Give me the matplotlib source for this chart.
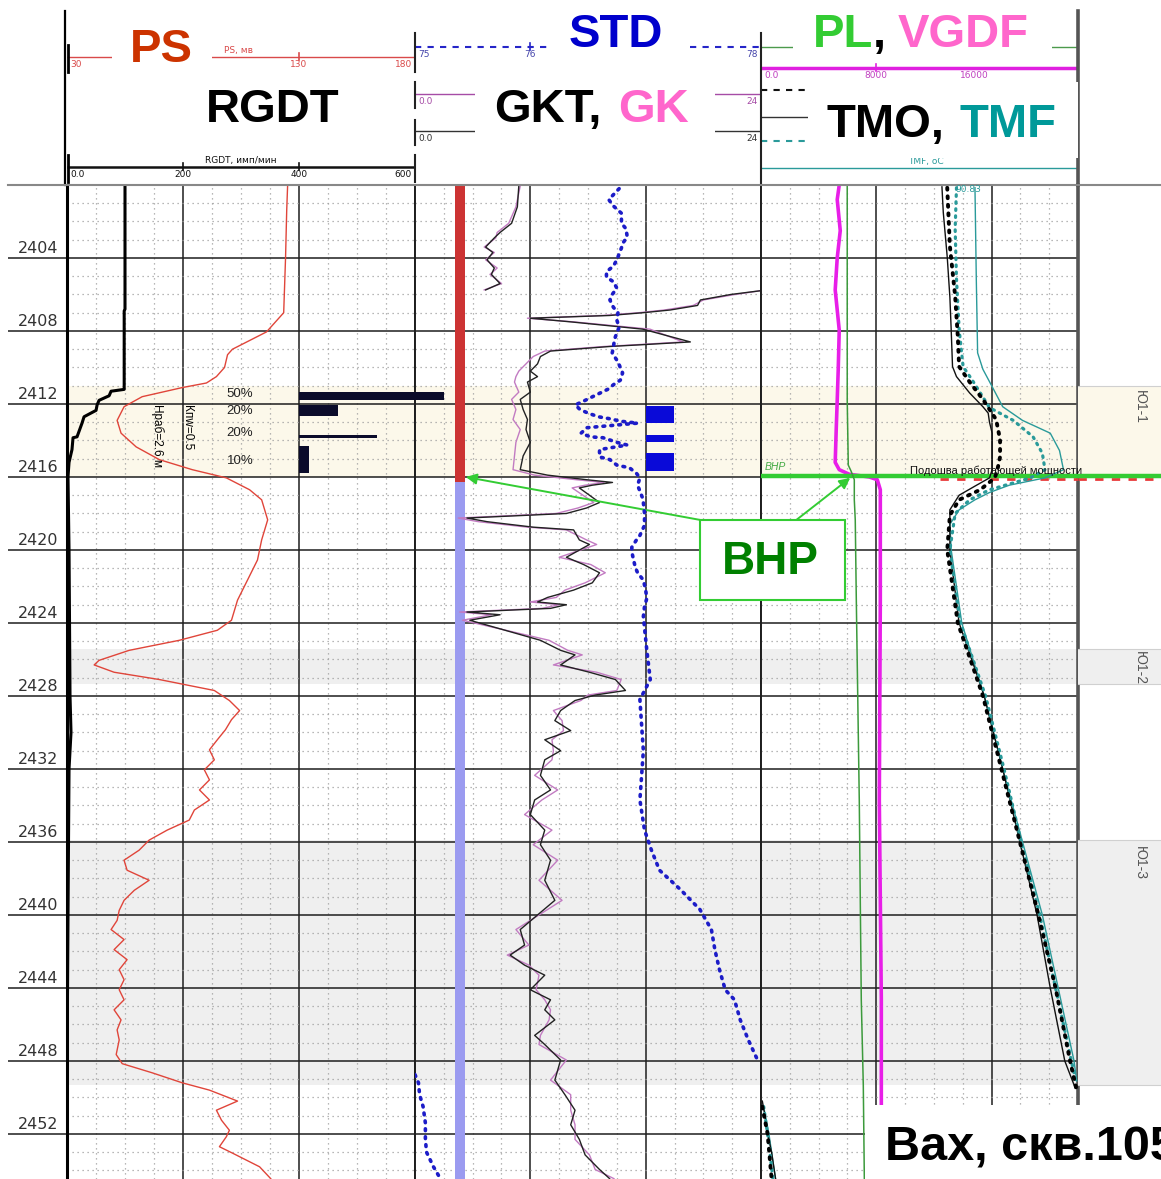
import numpy as np
import matplotlib
matplotlib.use("Agg")
import matplotlib.pyplot as plt
from matplotlib import transforms
from matplotlib.patches import Rectangle
from matplotlib.lines import Line2D

plt.rcParams["font.family"] = ["Liberation Sans", "DejaVu Sans"]

# PS, mV (track 1, scale 30..180)
ps_depth = [2400.0, 2401.4, 2404.0, 2407.0, 2408.05, 2409.0, 2409.3, 2410.0, 2410.5, 2410.85,
            2411.1, 2411.6, 2412.15, 2412.9, 2413.6, 2414.35, 2415.05, 2415.6, 2416.05, 2416.7,
            2417.25, 2418.35, 2419.45, 2420.55, 2421.65, 2422.75, 2423.85, 2424.4, 2424.95, 2425.5,
            2426.05, 2426.3, 2426.7, 2427.1, 2427.7, 2428.25, 2428.8, 2429.3, 2429.85, 2430.4,
            2430.95, 2431.5, 2432.05, 2432.6, 2433.15, 2433.7, 2434.25, 2434.8, 2435.35, 2435.9,
            2436.45, 2437.0, 2437.55, 2438.1, 2438.65, 2439.2, 2439.75, 2440.3, 2440.8, 2441.35,
            2441.9, 2442.45, 2443.0, 2443.55, 2444.1, 2444.65, 2445.2, 2445.75, 2446.3, 2446.85,
            2447.65, 2448.15, 2448.65, 2449.2, 2449.6, 2450.2, 2450.7, 2451.25, 2451.8, 2452.15,
            2452.7, 2453.05, 2453.8, 2454.45]
ps_vals = [125.1, 124.7, 124.2, 123.4, 116.0, 101.3, 99.2, 97.9, 94.4, 90.1,
           79.7, 62.4, 54.6, 51.6, 53.3, 59.8, 69.8, 84.0, 98.7, 108.7,
           113.9, 116.5, 113.9, 112.1, 107.8, 103.5, 100.9, 94.8, 78.4, 56.8,
           43.8, 41.7, 50.3, 69.8, 93.5, 100.0, 104.4, 100.9, 98.3, 94.8,
           91.4, 93.5, 89.2, 91.4, 87.1, 91.4, 84.9, 82.7, 73.2, 65.4,
           61.1, 54.6, 55.9, 65.4, 59.0, 54.6, 52.5, 51.6, 49.0, 54.6,
           50.3, 55.9, 52.5, 54.6, 52.5, 54.6, 50.3, 53.3, 51.6, 52.5,
           51.2, 53.8, 66.7, 79.7, 91.4, 103.5, 94.4, 96.6, 100.0, 98.7,
           95.7, 101.3, 113.0, 117.8]

# RGDT, imp/min (track 1, scale 0..600)
rgdt_depth = [2400.0, 2406.8, 2406.9, 2411.2, 2411.3, 2411.55, 2411.8, 2412.05, 2412.35, 2412.7,
              2413.05, 2413.8, 2413.85, 2414.5, 2415.2, 2416.0, 2420.0, 2428.0, 2430.0, 2432.0,
              2440.0, 2448.5]
rgdt_vals = [100, 100, 98.6, 98.6, 76, 72.6, 55.3, 51.9, 50.1, 29.4,
             25.9, 17.3, 10.4, 8.6, 3.5, 1.7, 3.5, 5.2, 6.9, 3.5,
             1.7, 0]

# inflow profile bars (RGDT units, from 400)
flow_top = [2411.35, 2412.05, 2413.68, 2414.3]
flow_bot = [2411.8, 2412.65, 2413.85, 2415.8]
flow_len = [250, 67, 135, 17]
flow_pct = ["50%", "20%", "20%", "10%"]
flow_lab_depth = [2411.45, 2412.4, 2413.6, 2415.1]

# GKT / GK (track 2, scale 0..24, wraps)
gk_depth = [2400.05, 2401.2, 2402.1, 2402.6, 2402.9, 2403.4, 2403.7, 2404.1, 2404.55, 2404.9, 2405.4, 2405.75,
            2405.8, 2406.0, 2406.3, 2406.6, 2406.85, 2407.0, 2407.15, 2407.3, 2407.5, 2407.9,
            2408.6, 2408.75, 2408.85, 2409.1, 2409.4, 2409.8, 2410.2, 2410.5, 2410.8, 2411.35,
            2411.75, 2412.3, 2412.85, 2413.4, 2414.1, 2414.85, 2415.6, 2415.9,
            2416.15, 2416.3, 2416.45, 2416.6, 2417.4, 2417.7, 2418.0, 2418.25, 2418.45, 2418.75,
            2418.9, 2419.45, 2419.7, 2420.4, 2420.8, 2421.25, 2421.8, 2422.2, 2422.6, 2422.85,
            2423.0, 2423.2, 2423.4, 2423.55, 2423.85,
            2424.95, 2425.5, 2425.75, 2426.3, 2426.7, 2427.1, 2427.7, 2427.95, 2428.25, 2428.8,
            2429.35, 2429.9, 2430.4, 2431.0, 2431.5, 2432.35, 2433.15, 2433.7, 2434.5, 2435.35,
            2436.15, 2437.0, 2438.1, 2439.2, 2440.8, 2441.65, 2442.2, 2442.75, 2443.3, 2444.1,
            2444.65, 2445.2, 2445.75, 2446.6, 2447.1, 2447.95, 2449.05, 2449.85, 2450.7, 2451.5,
            2452.3, 2453.15, 2453.95, 2454.45]
gkt_vals = [31.2, 31.1, 30.7, 29.9, 29.5, 28.9, 29.4, 29.0, 29.5, 29.3, 29.9, 28.9,
            23.9, 21.9, 19.8, 19.6, 17.7, 15.8, 13.5, 8.0, 10.8, 15.8,
            19.1, 15.8, 13.5, 9.4, 8.7, 8.5, 8.0, 8.5, 7.8, 8.0,
            7.3, 7.5, 7.8, 7.7, 8.0, 7.5, 7.3, 9.2,
            11.9, 13.7, 12.3, 11.4, 12.8, 11.9, 10.5, 3.6, 5.0, 8.2,
            11.0, 11.4, 12.1, 10.5, 11.7, 12.8, 12.3, 11.0, 9.2, 8.5,
            10.5, 9.4, 3.6, 5.9, 3.8,
            8.7, 10.1, 11.1, 10.1, 12.1, 13.9, 14.6, 12.5, 11.1, 10.1,
            9.7, 10.8, 9.0, 10.1, 9.0, 8.7, 9.4, 8.3, 8.0, 9.0,
            8.7, 9.4, 9.0, 9.7, 7.3, 7.6, 6.6, 7.6, 9.0, 8.0,
            9.4, 9.0, 9.7, 8.3, 9.0, 10.1, 9.7, 10.4, 11.1, 10.8,
            11.4, 11.8, 12.8, 13.5]
gk_vals = [31.3, 31.0, 30.5, 29.7, 29.6, 28.8, 29.5, 28.9, 29.7, 29.2, 30.0, 28.8,
           23.9, 22.2, 20.0, 19.3, 17.3, 15.5, 13.0, 7.8, 11.0, 16.3,
           18.6, 15.4, 13.1, 9.0, 8.2, 7.7, 7.2, 7.0, 6.9, 7.2,
           6.7, 7.0, 6.8, 7.3, 7.0, 6.9, 6.8, 8.3,
           11.2, 13.1, 11.8, 10.9, 12.4, 11.3, 9.8, 3.0, 4.4, 7.8,
           10.5, 11.9, 12.6, 10.0, 12.2, 13.2, 11.8, 10.4, 9.8, 8.0,
           10.0, 8.8, 3.1, 5.3, 3.3,
           9.3, 10.6, 11.6, 9.6, 12.6, 14.3, 14.0, 12.0, 11.5, 9.6,
           10.2, 10.3, 9.5, 9.6, 9.5, 8.3, 9.9, 8.8, 7.6, 9.5,
           8.2, 9.9, 8.6, 10.2, 7.0, 7.9, 6.4, 7.9, 8.6, 8.4,
           9.0, 9.4, 9.3, 8.7, 8.6, 10.5, 9.4, 10.8, 10.8, 11.1,
           11.1, 12.1, 12.5, 13.8]

# STD, degC (track 2, scale 75..78, wraps)
std_depth = [2400.2, 2400.8, 2401.15, 2401.55, 2402.1, 2402.4, 2402.85, 2403.2, 2403.45, 2404.1,
             2404.45, 2404.75, 2405.05, 2405.3, 2405.65, 2406.0, 2406.3, 2406.7, 2407.0, 2407.4,
             2407.8, 2408.1, 2408.45, 2408.9, 2409.2, 2409.7, 2410.3, 2410.7, 2410.9, 2411.2,
             2411.6, 2411.85, 2412.05, 2412.3, 2412.5, 2412.7, 2412.8, 2412.95, 2413.0, 2413.05,
             2413.3, 2413.6, 2413.8, 2413.85, 2414.1, 2414.25, 2414.5, 2414.9, 2415.05, 2415.35,
             2415.5, 2415.8, 2416.05, 2416.45, 2417.1, 2417.4, 2418.0, 2418.65, 2419.2, 2419.45,
             2419.85, 2420.1, 2420.4, 2420.95, 2421.25, 2421.65, 2422.2, 2422.65, 2423.1, 2423.65,
             2425.5, 2427.1, 2428.2, 2431.0, 2433.7, 2435.35, 2436.45, 2437.55, 2438.6, 2439.7,
             2440.8, 2441.9, 2443.0, 2444.1, 2444.65, 2445.75, 2446.85, 2447.95, 2448.75, 2449.2,
             2449.85, 2450.5, 2451.4, 2452.3, 2453.0, 2453.8, 2454.45]
std_vals = [76.77, 76.68, 76.72, 76.79, 76.79, 76.83, 76.84, 76.80, 76.79, 76.75,
            76.72, 76.66, 76.66, 76.72, 76.75, 76.71, 76.69, 76.72, 76.76, 76.75,
            76.77, 76.75, 76.73, 76.72, 76.71, 76.76, 76.80, 76.78, 76.73, 76.67,
            76.54, 76.46, 76.39, 76.43, 76.50, 76.59, 76.68, 76.79, 76.86, 76.93,
            76.49, 76.44, 76.52, 76.63, 76.75, 76.84, 76.60, 76.60, 76.69, 76.75,
            76.86, 76.92, 76.95, 76.93, 76.97, 76.98, 76.99, 76.99, 76.95, 76.92,
            76.88, 76.88, 76.89, 76.91, 76.93, 76.98, 77.00, 77.01, 76.99, 76.98,
            77.01, 77.04, 76.95, 76.98, 76.95, 76.99, 77.05, 77.12, 77.30, 77.47,
            77.57, 77.60, 77.64, 77.69, 77.77, 77.82, 77.89, 77.97, 78.00, 78.03,
            78.04, 78.07, 78.09, 78.09, 78.10, 78.16, 78.22]

# marker column and inflow intervals in track 2
col_top = [2400.0, 2416.3]
col_bot = [2416.3, 2454.47]
col_colors = ["#CC3333", "#9B9BF0"]
inflow_top = [2412.1, 2413.7, 2414.68]
inflow_bot = [2413.05, 2414.1, 2415.67]

# VGDF (track 3, 0..22000) and PL (0..3)
vgdf_depth = [2400.0, 2400.8, 2402.5, 2404.0, 2405.75, 2407.95, 2410.1, 2411.8, 2413.4, 2415.2,
              2415.6, 2415.85, 2416.0, 2416.15, 2416.7, 2422.75, 2433.7, 2444.65, 2454.47]
vgdf_vals = [5430, 5290, 5500, 5290, 5150, 5430, 5360, 5290, 5220, 5150,
             5430, 6120, 7510, 8070, 8280, 8280, 8210, 8350, 8350]
pl_depth = [2400.0, 2406.3, 2411.8, 2415.35, 2415.7, 2416.15, 2417.25, 2418.35, 2422.75, 2433.7,
            2444.65, 2449.3, 2454.47]
pl_vals = [0.816, 0.816, 0.816, 0.826, 0.854, 0.883, 0.883, 0.892, 0.902, 0.930,
           0.949, 0.968, 0.978]

# TMO / TMF temperatures, degC (track 3, 89.2..91.6, wraps)
tmo_depth = [2400.1, 2401.5, 2403.95, 2406.15, 2407.95, 2409.95, 2410.5, 2411.4, 2412.15, 2412.5,
             2413.0, 2413.6, 2415.6, 2416.05, 2416.5, 2417.0, 2417.8, 2418.5, 2420.0, 2424.0,
             2428.0, 2432.0, 2436.0, 2440.0, 2444.0, 2448.0, 2449.5, 2450.2, 2451.0, 2452.0,
             2453.0, 2454.45]
tmo_vals = [90.57, 90.58, 90.61, 90.63, 90.64, 90.65, 90.68, 90.78, 90.88, 90.92,
            90.93, 90.95, 90.95, 90.93, 90.82, 90.70, 90.63, 90.63, 90.63, 90.70,
            90.89, 91.03, 91.16, 91.29, 91.39, 91.50, 91.58, 91.61, 91.63, 91.65,
            91.68, 91.71]
tmo2_depth = [2400.15, 2403.35, 2406.1, 2408.3, 2409.95, 2410.8, 2411.75, 2412.85, 2413.95, 2414.9,
              2415.6, 2416.05, 2416.7, 2417.25, 2418.1, 2420.0, 2424.0, 2428.0, 2432.0, 2436.0,
              2440.0, 2444.0, 2448.0, 2449.6, 2450.5, 2452.0, 2454.45]
tmo2_vals = [90.61, 90.63, 90.67, 90.69, 90.70, 90.78, 90.88, 90.98, 91.01, 91.01,
             90.99, 90.97, 90.86, 90.70, 90.63, 90.61, 90.69, 90.88, 91.02, 91.16,
             91.30, 91.43, 91.54, 91.59, 91.61, 91.65, 91.68]
tmf2_depth = [2400.15, 2402.4, 2405.15, 2407.9, 2409.95, 2410.7, 2412.2, 2412.9, 2413.8, 2414.7,
              2415.6, 2416.05, 2416.7, 2417.25, 2418.0, 2420.0, 2424.0, 2428.0, 2432.0, 2436.0,
              2440.0, 2444.0, 2448.0, 2449.3, 2450.5, 2452.0, 2454.45]
tmf2_vals = [90.68, 90.67, 90.68, 90.70, 90.73, 90.80, 90.93, 91.11, 91.26, 91.33,
             91.35, 91.24, 90.93, 90.78, 90.67, 90.63, 90.71, 90.90, 91.04, 91.17,
             91.31, 91.43, 91.55, 91.59, 91.62, 91.65, 91.69]
tmf_depth = [2400.15, 2405.15, 2409.2, 2410.1, 2411.05, 2412.15, 2412.9, 2413.6, 2414.55, 2415.6,
             2416.05, 2416.45, 2416.85, 2417.25, 2417.8, 2418.6, 2420.0, 2424.0, 2428.0, 2432.0,
             2436.0, 2440.0, 2444.0, 2448.0, 2449.1, 2450.5, 2452.0, 2454.45]
tmf_vals = [90.82, 90.83, 90.84, 90.88, 90.95, 91.03, 91.18, 91.39, 91.46, 91.49,
            91.35, 91.08, 90.93, 90.82, 90.70, 90.63, 90.64, 90.72, 90.89, 91.03,
            91.18, 91.33, 91.45, 91.57, 91.59, 91.62, 91.66, 91.71]

# zones
zone_names = ["Ю1-1", "Ю1-2", "Ю1-3"]
zone_top = [2411.0, 2425.4, 2435.9]
zone_bot = [2416.0, 2427.35, 2449.3]
zone_colors = ["#FCF8EA", "#EFEFEF", "#EFEFEF"]
zone_label_depth = [2412.15, 2426.45, 2437.15]

bhp_depth = 2415.95
depth_labels = np.arange(2404, 2453, 4)

# ---------------- layout ----------------
W, H = 1161, 1179
TOP, BOT = 2400.0, 2454.47
fig = plt.figure(figsize=(W / 100, H / 100), dpi=100)
fig.patch.set_facecolor("white")


def rect(x0, y0, x1, y1):
    return [x0 / W, 1 - y1 / H, (x1 - x0) / W, (y1 - y0) / H]


def fx(x):
    return x / W


def fy(y):
    return 1 - y / H


def wrap(depth, vals, lo, span):
    d_out, v_out, prev = [], [], None
    for d, v in zip(depth, vals):
        k = np.floor((v - lo) / span + 1e-9)
        if prev is not None and k != prev:
            d_out.append(np.nan)
            v_out.append(np.nan)
        d_out.append(d)
        v_out.append(v - k * span)
        prev = k
    return d_out, v_out


def track(x0, x1, lim, major, minor):
    ax = fig.add_axes(rect(x0, 185, x1, H))
    ax.set_xlim(*lim)
    ax.set_ylim(BOT, TOP)
    ax.set_xticks(np.arange(lim[0], lim[1] + 1e-6, major))
    ax.set_xticks(np.arange(lim[0], lim[1] + 1e-6, minor), minor=True)
    ax.set_yticks(np.arange(2404, BOT, 4))
    ax.set_yticks(np.arange(2401, BOT, 1), minor=True)
    ax.grid(which="major", color="#1e1e1e", lw=1.1)
    ax.grid(which="minor", color="#a0a0a0", lw=0.9, ls=(0, (1, 3)))
    ax.set_axisbelow(True)
    ax.tick_params(which="both", length=0, labelbottom=False, labelleft=False)
    for s in ("top", "bottom"):
        ax.spines[s].set_visible(False)
    for s in ("left", "right"):
        ax.spines[s].set_color("#1e1e1e")
        ax.spines[s].set_linewidth(1.3)
    for t, b, c in zip(zone_top, zone_bot, zone_colors):
        ax.axhspan(t, b, color=c, zorder=0, lw=0)
    return ax


def twin(ax, lim):
    t = ax.twiny()
    t.set_xlim(*lim)
    t.axis("off")
    return t


def dotted(ax, x, y, color, lw):
    ax.plot(x, y, color=color, lw=lw, ls=(0, (0.5, 1.7)), dash_capstyle="round")


# depth column
axd = fig.add_axes(rect(8, 185, 67, H))
axd.set_xlim(0, 1)
axd.set_ylim(BOT, TOP)
axd.axis("off")
for d in depth_labels:
    axd.axhline(d, color="#1e1e1e", lw=1.1)
    axd.text(0.86, d - 0.12, str(d), ha="right", va="bottom", fontsize=11.5, color="#333333",
             family="DejaVu Sans")

# track 1: PS + RGDT
ax1 = track(67, 415, (30, 180), 50, 12.5)
ax1.spines["left"].set_linewidth(2.2)
ax1.spines["left"].set_color("black")
ax1.plot(ps_vals, ps_depth, color="#E0453A", lw=1.0)
r1 = twin(ax1, (0, 600))
r1.set_zorder(1)
r1.plot(rgdt_vals, rgdt_depth, color="black", lw=2.2)
ft, fb = np.array(flow_top), np.array(flow_bot)
r1.barh((ft + fb) / 2, flow_len, height=fb - ft, left=400, color="#0b0b2a", clip_on=False, zorder=4)
for d, lab in zip(flow_lab_depth, flow_pct):
    r1.text(298, d, lab, ha="center", va="center", fontsize=9.5, color="#222222")
ax1.text(81.9, 2413.3, "Кпw=0.5", rotation=-90, ha="center", va="center", fontsize=8.5)
ax1.text(68.9, 2413.7, "Нраб=2.6 м", rotation=-90, ha="center", va="center", fontsize=8.5)

# track 2: GKT, GK, STD
ax2 = track(415, 761, (0, 24), 8, 2)
blend = transforms.blended_transform_factory(ax2.transAxes, ax2.transData)
for t, b, c in zip(col_top, col_bot, col_colors):
    ax2.fill_betweenx([t, b], 0.1156, 0.1445, color=c, transform=blend, lw=0, zorder=2)
for t, b in zip(inflow_top, inflow_bot):
    ax2.fill_betweenx([t, b], 0.668, 0.749, color="#0A0AD8", transform=blend, lw=0, zorder=2)
d, v = wrap(gk_depth, gk_vals, 0, 24)
ax2.plot(v, d, color="#C27BC2", lw=1.0, zorder=3)
d, v = wrap(gk_depth, gkt_vals, 0, 24)
ax2.plot(v, d, color="#222222", lw=1.0, zorder=3)
s2 = twin(ax2, (75, 78))
d, v = wrap(std_depth, std_vals, 75, 3)
dotted(s2, v, d, "#1c1cc8", 2.6)

# track 3: VGDF, PL, TMO, TMF
ax3 = track(761, 1078, (0, 22000), 8000, 2000)
ax3.spines["right"].set_linewidth(2.6)
ax3.spines["right"].set_color("#555555")
ax3.plot(vgdf_vals, vgdf_depth, color="#E81EE8", lw=2.6)
p3 = twin(ax3, (0, 3))
p3.plot(pl_vals, pl_depth, color="#3C9A3C", lw=1.1)
t3 = twin(ax3, (89.2, 91.6))
d, v = wrap(tmf_depth, tmf_vals, 89.2, 2.4)
t3.plot(v, d, color="#2A9A9A", lw=1.0)
d, v = wrap(tmo_depth, tmo_vals, 89.2, 2.4)
t3.plot(v, d, color="#111111", lw=1.0)
d, v = wrap(tmf2_depth, tmf2_vals, 89.2, 2.4)
dotted(t3, v, d, "#2A9A9A", 2.3)
d, v = wrap(tmo2_depth, tmo2_vals, 89.2, 2.4)
dotted(t3, v, d, "#000000", 2.8)
ax3.plot([12450, 22000], [2416.12, 2416.12], color="#E83A3A", lw=2, ls=(0, (3, 3)), zorder=4)
ax3.axhline(bhp_depth, color="#33CC33", lw=3.2, zorder=5)
ax3.text(278, bhp_depth - 0.25, "BHP", fontsize=7.5, style="italic", color="#44AA44", va="bottom")

# zone column
axz = fig.add_axes(rect(1078, 185, W, H))
axz.set_xlim(0, 1)
axz.set_ylim(BOT, TOP)
axz.axis("off")
for name, t, b, c, dl in zip(zone_names, zone_top, zone_bot, zone_colors, zone_label_depth):
    axz.axhspan(t, b, color=c, lw=0, zorder=0)
    axz.axhline(t, color="#d0d0d0", lw=0.8)
    axz.axhline(b, color="#d0d0d0", lw=0.8)
    axz.text(0.75, dl, name, rotation=-90, ha="center", va="center", fontsize=10, color="#555555")
axz.axhline(2416.12, color="#E83A3A", lw=2, ls=(0, (3, 3)))
axz.axhline(bhp_depth, color="#33CC33", lw=3.2)

# arrows to BHP
arrow = dict(arrowstyle="-|>", color="#33CC33", lw=1.4, mutation_scale=16, shrinkA=0, shrinkB=0)
ax2.annotate("", xy=(0.147, 2416.0), xycoords=blend, xytext=(706, H - 521),
             textcoords="figure pixels", arrowprops=arrow, annotation_clip=False)
ax3.annotate("", xy=(6190, 2416.05), xytext=(795, H - 521),
             textcoords="figure pixels", arrowprops=arrow, annotation_clip=False)


# ---------------- header ----------------
def scale_row(x0, x1, y, lim, color, lw=1.0, ls="-", ticks=(), labels=(), has=(),
              lab_color=None, marks=(), title=None, title_x=None, title_y=-2):
    ax = fig.add_axes(rect(x0, y - 14, x1, y + 14))
    ax.set_xlim(*lim)
    ax.set_ylim(14, -14)
    ax.axis("off")
    ax.plot(lim, [0, 0], color=color, lw=lw, ls=ls, solid_capstyle="butt", clip_on=False)
    for m in marks:
        ax.plot([m, m], [-4, 3], color=color, lw=1.2)
    for t, lab, ha in zip(ticks, labels, has):
        dx = {"left": 3, "right": -3, "center": 0}[ha]
        tr = transforms.offset_copy(ax.transData, fig=fig, x=dx, y=0, units="dots")
        ax.text(t, 3, lab, ha=ha, va="top", fontsize=6.5, color=lab_color or color,
                transform=tr, family="DejaVu Sans")
    if title:
        ax.text(title_x, title_y, title, ha="center", va="bottom", fontsize=6.5,
                color=lab_color or color, family="DejaVu Sans", clip_on=False)
    return ax


scale_row(67, 415, 57, (30, 180), "#D94A4A", ticks=[30, 130, 180], labels=["30", "130", "180"],
          has=["left", "center", "right"], marks=[130], title="PS, мв", title_x=104)
scale_row(67, 415, 167, (0, 600), "#111111", lw=1.8, ticks=[0, 200, 400, 600],
          labels=["0.0", "200", "400", "600"], has=["left", "center", "center", "right"],
          marks=[200, 400], title="RGDT, имп/мин", title_x=300)
scale_row(415, 761, 47, (75, 78), "#2525C8", lw=1.5, ls=(0, (3, 3)), ticks=[75, 76, 78],
          labels=["75", "76", "78"], has=["left", "center", "right"], lab_color="#4444AA", marks=[76])
scale_row(415, 761, 94, (0, 24), "#A64CA6", ticks=[0, 24], labels=["0.0", "24"], has=["left", "right"])
scale_row(415, 761, 131, (0, 24), "#333333", ticks=[0, 24], labels=["0.0", "24"], has=["left", "right"])
scale_row(761, 1078, 47, (0, 3), "#4C9A4C")
scale_row(761, 1078, 68, (0, 22000), "#E020E0", lw=2.5, ticks=[0, 8000, 16000],
          labels=["0.0", "8000", "16000"], has=["left", "center", "right"], lab_color="#C040C0",
          marks=[8000])
scale_row(761, 1078, 90, (89.2, 91.6), "#111111", lw=1.5, ls=(0, (3, 3)),
          title="ТМОК, оС", title_x=90.5, title_y=2)
scale_row(761, 1078, 117, (89.2, 91.6), "#333333")
scale_row(761, 1078, 141, (89.2, 91.6), "#2A9A9A", lw=1.5, ls=(0, (3, 3)))
scale_row(761, 1078, 168, (89.2, 91.6), "#2A9A9A", title="TMF, oC", title_x=90.45)

# header frame lines
for x, y0, y1, lw, c in [(65, 11, 185, 1.6, "black"), (415, 33, 72, 1.5, "#222222"),
                         (415, 82, 108, 1.5, "#222222"), (415, 120, 145, 1.5, "#222222"),
                         (415, 155, 182, 1.5, "#222222"), (761, 33, 185, 1.5, "#222222"),
                         (1078, 11, 185, 2.6, "#555555"), (68, 45, 72, 2, "black"),
                         (68, 155, 182, 2, "black")]:
    fig.add_artist(Line2D([fx(x), fx(x)], [fy(y0), fy(y1)], color=c, lw=lw))
fig.add_artist(Line2D([fx(8), 1], [fy(185), fy(185)], color="#888888", lw=1.5))

# white boxes behind big labels
for x0, y0, x1, y1 in [(112, 18, 212, 64), (552, 5, 690, 60), (475, 66, 715, 150),
                       (793, 3, 1052, 62), (808, 82, 1078, 158), (865, 1105, W, H)]:
    fig.add_artist(Rectangle((fx(x0), fy(y1)), (x1 - x0) / W, (y1 - y0) / H,
                             transform=fig.transFigure, facecolor="white", edgecolor="none", zorder=5))
fig.add_artist(Rectangle((fx(700), fy(600)), 145 / W, 80 / H, transform=fig.transFigure,
                         facecolor="white", edgecolor="#33CC33", lw=1.5, zorder=5))

big = dict(fontsize=34, weight="bold", va="baseline", zorder=6)
fig.text(fx(161), fy(62), "PS", color="#CC3300", ha="center", **big)
fig.text(fx(273), fy(122), "RGDT", color="black", ha="center", **big)
fig.text(fx(616), fy(47), "STD", color="#0000CC", ha="center", **big)
fig.text(fx(601), fy(122), "GKT,", color="black", ha="right", **big)
fig.text(fx(618), fy(122), "GK", color="#FF66CC", ha="left", **big)
fig.text(fx(813), fy(47), "PL", color="#33CC33", ha="left", **big)
fig.text(fx(873), fy(47), ",", color="black", ha="left", **big)
fig.text(fx(898), fy(47), "VGDF", color="#FF66CC", ha="left", **big)
fig.text(fx(944), fy(137), "TMO,", color="black", ha="right", **big)
fig.text(fx(959), fy(137), "TMF", color="#009999", ha="left", **big)
fig.text(fx(770), fy(574), "BHP", color="#008000", ha="center", fontsize=33, weight="bold",
         va="baseline", zorder=6)
fig.text(fx(885), fy(1160), "Вах, скв.105", color="black", ha="left", fontsize=35,
         weight="bold", va="baseline", zorder=6)
fig.text(fx(955), fy(190), "90.83", color="#2A9A9A", fontsize=6.5, va="center",
         family="DejaVu Sans", zorder=6)
fig.text(fx(910), fy(474), "Подошва работающей мощности", color="#111111", fontsize=8,
         va="baseline", zorder=6)

fig.savefig("out.png", dpi=100)
